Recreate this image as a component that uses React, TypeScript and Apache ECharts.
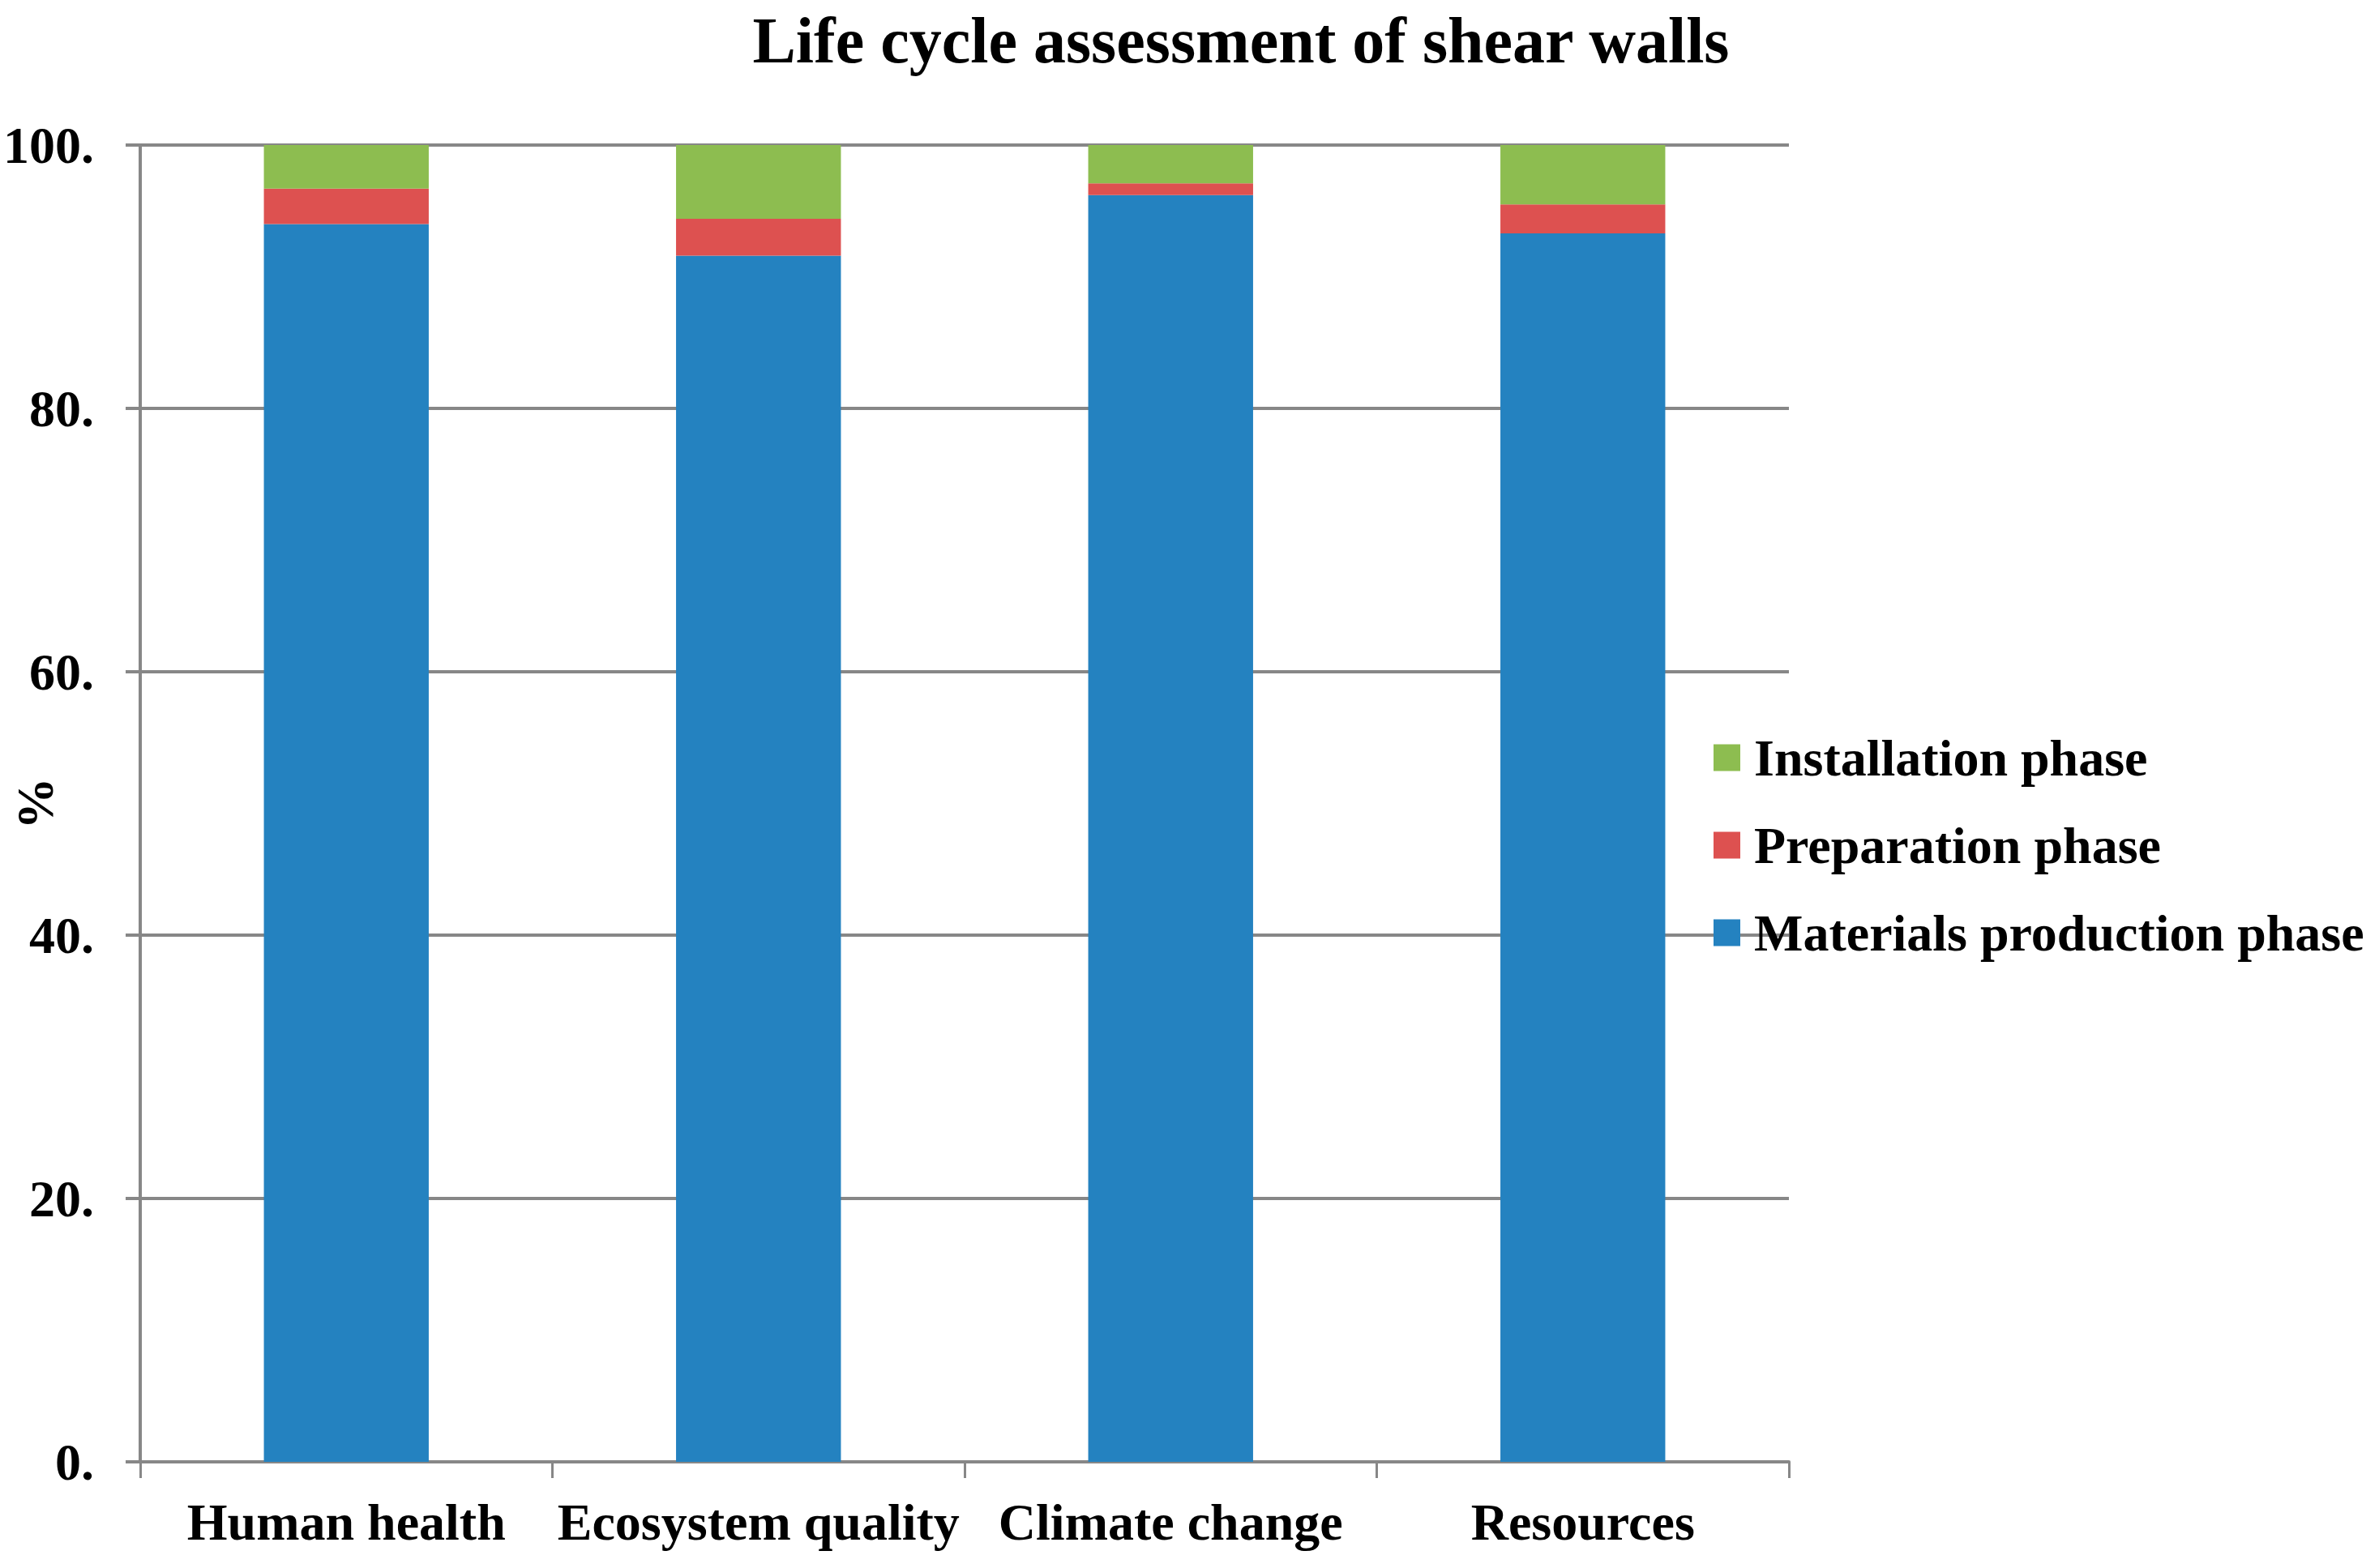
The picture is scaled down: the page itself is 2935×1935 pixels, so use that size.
import React, { useEffect, useRef } from 'react';
import * as echarts from 'echarts';

const categories = ['Human health', 'Ecosystem quality', 'Climate change', 'Resources'];
const materialsPhase = [94.0, 91.6, 96.2, 93.3];
const preparationPhase = [2.7, 2.8, 0.9, 2.2];
const installationPhase = [3.3, 5.6, 2.9, 4.5];
const yTicks = [0, 20, 40, 60, 80, 100];

const FONT = '"Liberation Serif", "Times New Roman", serif';
const GRAY = '#878787';

const App: React.FC = () => {
  const chartRef = useRef<HTMLDivElement>(null);

  useEffect(() => {
    if (!chartRef.current) return;
    const chart = echarts.init(chartRef.current, undefined, { renderer: 'svg' });

    const textBase = { fontFamily: FONT, fontWeight: 'bold' as const, color: '#000', fontSize: 64 };

    const option: echarts.EChartsOption = {
      animation: false,
      backgroundColor: '#fff',
      title: {
        text: 'Life cycle assessment of shear walls',
        left: 1526,
        textAlign: 'center',
        top: 5,
        textStyle: { ...textBase, fontSize: 80 },
      },
      grid: {
        left: 173,
        right: 728,
        top: 179,
        bottom: 131,
        containLabel: false,
        outerBoundsMode: 'none',
      } as any,
      legend: {
        orient: 'vertical',
        left: 2109,
        top: 898,
        itemWidth: 33,
        itemHeight: 33,
        itemGap: 44,
        icon: 'rect',
        data: ['Installation phase', 'Preparation phase', 'Materials production phase'],
        textStyle: { ...textBase, padding: [0, 0, 0, 12] },
      },
      xAxis: {
        type: 'category',
        data: categories,
        boundaryGap: true,
        axisLine: { lineStyle: { color: GRAY, width: 4 } },
        axisTick: { show: true, length: 20, interval: 0, lineStyle: { color: GRAY, width: 3 } },
        axisLabel: { ...textBase, margin: 42, interval: 0 },
      },
      yAxis: {
        type: 'value',
        min: yTicks[0],
        max: yTicks[yTicks.length - 1],
        interval: 20,
        name: '%',
        nameLocation: 'middle',
        nameRotate: 90,
        nameGap: 98,
        nameMoveOverlap: false,
        nameTextStyle: textBase,
        axisLine: { show: true, lineStyle: { color: GRAY, width: 4 } },
        axisTick: { show: true, length: 18, lineStyle: { color: GRAY, width: 4 } },
        axisLabel: { ...textBase, margin: 57, formatter: (v: number) => `${v}.` },
        splitLine: { show: true, lineStyle: { color: GRAY, width: 4 } },
      } as any,
      series: [
        {
          name: 'Materials production phase',
          type: 'bar',
          stack: 'total',
          barWidth: '40%',
          data: materialsPhase,
          itemStyle: { color: '#2482C0' },
        },
        {
          name: 'Preparation phase',
          type: 'bar',
          stack: 'total',
          barWidth: '40%',
          data: preparationPhase,
          itemStyle: { color: '#DD5150' },
        },
        {
          name: 'Installation phase',
          type: 'bar',
          stack: 'total',
          barWidth: '40%',
          data: installationPhase,
          itemStyle: { color: '#8DBD50' },
        },
      ],
    };

    chart.setOption(option);
    return () => {
      chart.dispose();
    };
  }, []);

  return (
    <div
      ref={chartRef}
      style={{ position: 'fixed', left: 0, top: 0, width: 2935, height: 1935, background: '#fff' }}
    />
  );
};

export default App;
